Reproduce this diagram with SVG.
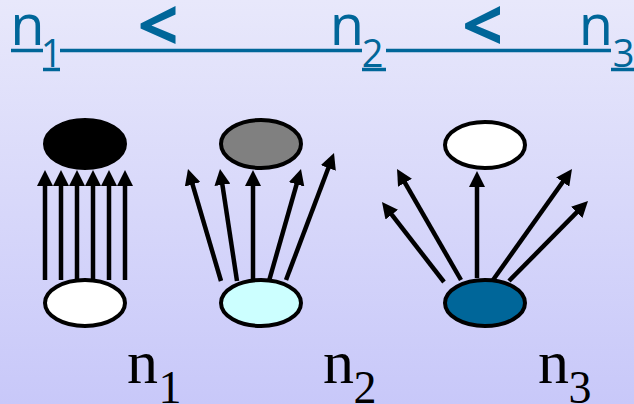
<svg xmlns="http://www.w3.org/2000/svg" width="634" height="404" viewBox="0 0 634 404">
<defs>
<linearGradient id="bg" x1="0" y1="0" x2="0" y2="1">
<stop offset="0" stop-color="#E8E8FB"/>
<stop offset="1" stop-color="#C8C8F9"/>
</linearGradient>
<marker id="ah" markerUnits="userSpaceOnUse" markerWidth="16" markerHeight="16" viewBox="0 0 16 16" refX="8" refY="8" orient="auto">
<path d="M0,0 L16,8 L0,16 Z" fill="#000"/>
</marker>
<style>
.t{font-family:"Open Sans","DejaVu Sans",sans-serif;fill:#006699}
.tn{font-size:56px}
.ts{font-size:38px}
.lt{font-size:72px;font-weight:bold}
.ul{stroke:#006699;stroke-width:3.5}
.node{stroke:#000;stroke-width:4}
.conn line{stroke:#000;stroke-width:4.5;marker-end:url(#ah)}
.lab{font-family:"Liberation Serif","Times New Roman",serif;fill:#000}
.ln{font-size:62px}
.ls{font-size:46px}
</style>
</defs>
<rect x="0" y="0" width="634" height="404" fill="url(#bg)"/>

<g id="title">
<text class="t tn" x="27.5" y="45" text-anchor="middle">n</text>
<text class="t ts" x="51.5" y="67" text-anchor="middle">1</text>
<text class="t lt" x="158" y="51" text-anchor="middle">&lt;</text>
<text class="t tn" x="347" y="45" text-anchor="middle">n</text>
<text class="t ts" x="372.5" y="67" text-anchor="middle">2</text>
<text class="t lt" x="482.5" y="51" text-anchor="middle">&lt;</text>
<text class="t tn" x="596" y="45" text-anchor="middle">n</text>
<text class="t ts" x="623.5" y="67" text-anchor="middle">3</text>
<line class="ul" x1="11" y1="50.5" x2="43" y2="50.5"/>
<line class="ul" x1="43" y1="69.5" x2="60" y2="69.5"/>
<line class="ul" x1="60" y1="50.5" x2="362" y2="50.5"/>
<line class="ul" x1="362" y1="69.5" x2="386" y2="69.5"/>
<line class="ul" x1="386" y1="50.5" x2="611" y2="50.5"/>
<line class="ul" x1="611" y1="69.5" x2="634" y2="69.5"/>
</g>

<g id="connectors" class="conn">
<line x1="45" y1="280" x2="45" y2="178"/>
<line x1="61" y1="280" x2="61" y2="178"/>
<line x1="77" y1="280" x2="77" y2="178"/>
<line x1="93" y1="280" x2="93" y2="178"/>
<line x1="109" y1="280" x2="109" y2="178"/>
<line x1="125" y1="280" x2="125" y2="178"/>

<line x1="221" y1="281" x2="190.26" y2="176.67"/>
<line x1="237" y1="281" x2="221.2" y2="176.9"/>
<line x1="253" y1="281" x2="253" y2="178"/>
<line x1="269" y1="281" x2="298.8" y2="176.7"/>
<line x1="286" y1="280" x2="331.17" y2="160.48"/>

<line x1="444" y1="282" x2="386.9" y2="208.32"/>
<line x1="461" y1="280" x2="401" y2="175.93"/>
<line x1="477" y1="278" x2="477" y2="179"/>
<line x1="493" y1="280" x2="567.36" y2="175.52"/>
<line x1="509" y1="281" x2="582.38" y2="206.69"/>
</g>

<g id="n1-top"><ellipse class="node" cx="85" cy="144" rx="40" ry="24" fill="#000"/></g>
<g id="n1-bottom"><ellipse class="node" cx="85" cy="303" rx="40" ry="23" fill="#FFFFFF"/></g>
<g id="n2-top"><ellipse class="node" cx="261" cy="144" rx="40" ry="24" fill="#808080"/></g>
<g id="n2-bottom"><ellipse class="node" cx="261" cy="303" rx="40" ry="23" fill="#CCFFFF"/></g>
<g id="n3-top"><ellipse class="node" cx="485" cy="145" rx="40" ry="23" fill="#FFFFFF"/></g>
<g id="n3-bottom"><ellipse class="node" cx="485" cy="303" rx="40" ry="23" fill="#006699"/></g>

<g id="labels">
<text class="lab ln" x="127" y="383">n</text>
<text class="lab ls" x="170" y="403" text-anchor="middle">1</text>
<text class="lab ln" x="323" y="383">n</text>
<text class="lab ls" x="365" y="403" text-anchor="middle">2</text>
<text class="lab ln" x="538" y="383">n</text>
<text class="lab ls" x="580" y="403" text-anchor="middle">3</text>
</g>
</svg>
